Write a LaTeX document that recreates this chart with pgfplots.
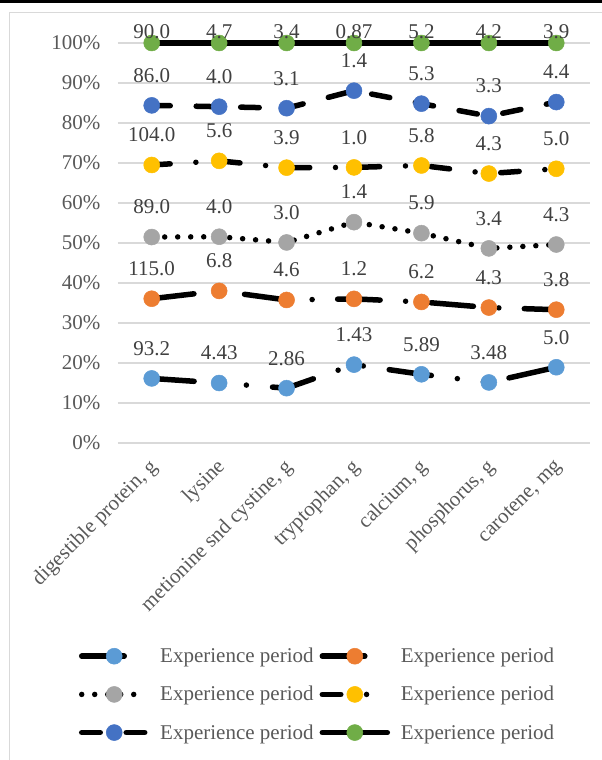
\documentclass[border=0pt]{standalone}
\usepackage{pgfplots}
\pgfplotsset{compat=1.18}
\usepackage{pgfplotstable}
\usepackage{fontspec}
\setmainfont{Liberation Serif}
\definecolor{cA}{HTML}{5B9BD5}
\definecolor{cB}{HTML}{ED7D31}
\definecolor{cC}{HTML}{A5A5A5}
\definecolor{cD}{HTML}{FFC000}
\definecolor{cE}{HTML}{4472C4}
\definecolor{cF}{HTML}{70AD47}
\definecolor{cgrid}{HTML}{D9D9D9}
\definecolor{ctick}{HTML}{595959}
\definecolor{clab}{HTML}{404040}

\pgfplotstableread{
x y lab
1 16.15 93.2
2 15.00 4.43
3 13.71 2.86
4 19.59 1.43
5 17.18 5.89
6 15.14 3.48
7 18.94 5.0
}\serA
\pgfplotstableread{
x y lab
1 36.07 115.0
2 38.03 6.8
3 35.76 4.6
4 36.03 1.2
5 35.26 6.2
6 33.86 4.3
7 33.33 3.8
}\serB
\pgfplotstableread{
x y lab
1 51.49 89.0
2 51.57 4.0
3 50.14 3.0
4 55.21 1.4
5 52.46 5.9
6 48.65 3.4
7 49.62 4.3
}\serC
\pgfplotstableread{
x y lab
1 69.51 104.0
2 70.54 5.6
3 68.84 3.9
4 68.90 1.0
5 69.38 5.8
6 67.36 4.3
7 68.56 5.0
}\serD
\pgfplotstableread{
x y lab
1 84.41 86.0
2 84.08 4.0
3 83.70 3.1
4 88.08 1.4
5 84.84 5.3
6 81.72 3.3
7 85.23 4.4
}\serE
\pgfplotstableread{
x y lab
1 100 90.0
2 100 4.7
3 100 3.4
4 100 0.87
5 100 5.2
6 100 4.2
7 100 3.9
}\serF

\begin{document}
\begin{tikzpicture}
\path[use as bounding box] (0pt,0pt) rectangle (602pt,-760pt);
\fill[black] (0pt,0pt) rectangle (602pt,-3.5pt);
\draw[cgrid, line width=1pt] (9pt,-13pt) rectangle (650pt,-800pt);
\begin{axis}[
  at={(118pt,-443pt)}, anchor=south west,
  scale only axis, width=472pt, height=400pt,
  xmin=0.5, xmax=7.5, ymin=0, ymax=100,
  xtick={1,2,3,4,5,6,7},
  xticklabels={{digestible protein, g}, {lysine}, {metionine snd cystine, g}, {tryptophan, g}, {calcium, g}, {phosphorus, g}, {carotene, mg}},
  ytick={0,10,20,30,40,50,60,70,80,90,100},
  yticklabels={0\%,10\%,20\%,30\%,40\%,50\%,60\%,70\%,80\%,90\%,100\%},
  clip=false,
  axis line style={draw=none}, tick style={draw=none},
  ymajorgrids, major grid style={cgrid, line width=1.3pt},
  tick label style={font=\fontsize{21}{25}\selectfont, text=ctick},
  yticklabel style={xshift=-14pt},
  xticklabel style={inner sep=0pt, xshift=3pt, yshift=-21pt, rotate=45, anchor=east},
  every axis plot/.append style={line width=5.5pt, line cap=round, line join=round, black, mark=*, mark size=8pt},
  nodes near coords, point meta=explicit symbolic,
  nodes near coords style={font=\fontsize{21}{25}\selectfont, text=clab, anchor=center},
  legend style={draw=none, fill=none, inner sep=0pt, font=\fontsize{21}{25}\selectfont, text=ctick,
    at={(0.4207,-0.6285)}, anchor=center, row sep=22.1pt,
    nodes={inner sep=0pt},
    /tikz/every odd column/.append style={column sep=10.75pt},
    /tikz/every even column/.append style={column sep=6pt}},
  legend columns=2, legend cell align=left,
  legend image code/.code={\draw[mark repeat=2,mark phase=2] plot coordinates {(0pt,0pt) (32.5pt,0pt) (65pt,0pt)};},
]
\addplot[dash pattern=on 42.5pt off 26.2pt on 0pt off 26.2pt on 0pt off 26.2pt,
  mark options={solid, draw=cA, fill=cA, line width=0.5pt}, nodes near coords style={yshift=30pt}]
  table[x=x, y=y, meta=lab] {\serA};
\addlegendentry{Experience period}
\addplot[dash pattern=on 42.5pt off 25.5pt on 0pt off 25.5pt,
  mark options={solid, draw=cB, fill=cB, line width=0.5pt}, nodes near coords style={yshift=30pt}]
  table[x=x, y=y, meta=lab] {\serB};
\addlegendentry{Experience period}
\addplot[dash pattern=on 0pt off 13pt,
  mark options={solid, draw=cC, fill=cC, line width=0.5pt}, nodes near coords style={yshift=30pt}]
  table[x=x, y=y, meta=lab] {\serC};
\addlegendentry{Experience period}
\addplot[dash pattern=on 18.5pt off 25.75pt on 0pt off 25.75pt,
  mark options={solid, draw=cD, fill=cD, line width=0.5pt}, nodes near coords style={yshift=30pt}]
  table[x=x, y=y, meta=lab] {\serD};
\addlegendentry{Experience period}
\addplot[dash pattern=on 18.5pt off 26pt,
  mark options={solid, draw=cE, fill=cE, line width=0.5pt}, nodes near coords style={yshift=30pt}]
  table[x=x, y=y, meta=lab] {\serE};
\addlegendentry{Experience period}
\addplot[solid,
  mark options={solid, draw=cF, fill=cF, line width=0.5pt}, nodes near coords style={yshift=11.5pt}]
  table[x=x, y=y, meta=lab] {\serF};
\addlegendentry{Experience period}
\end{axis}
\end{tikzpicture}
\end{document}
